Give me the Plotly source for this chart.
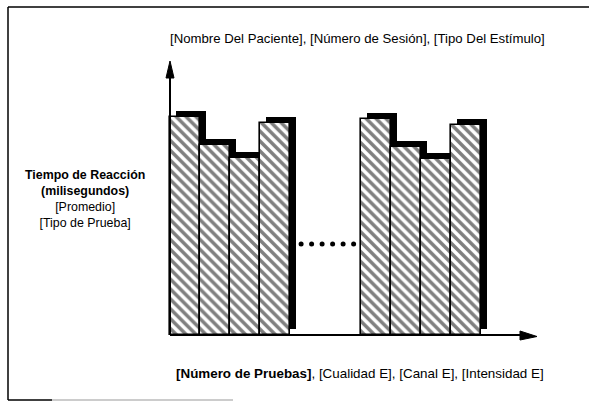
import plotly.graph_objects as go

# Mean reaction time per trial (schematic units), first and last blocks of trials
trial_pos = [0.5, 1.5, 2.5, 3.5, 6.85, 7.85, 8.85, 9.85]
reaction_time = [218, 190, 177, 212, 216, 188, 176, 210]
# "......" between the two blocks of trials
ellipsis_x = [4.37, 4.72, 5.07, 5.42, 5.77, 6.12]
ellipsis_y = [91, 91, 91, 91, 91, 91]

title_text = "[Nombre Del Paciente], [Número de Sesión], [Tipo Del Estímulo]"
y_label = ("<b>Tiempo de Reacción</b><br><b>(milisegundos)</b><br>"
           "[Promedio]<br>[Tipo de Prueba]")
x_label = "<b>[Número de Pruebas]</b>, [Cualidad E], [Canal E], [Intensidad E]"

W, H = 589, 402
OX, OY = 170, 335          # axis origin in page pixels
BAR_PX = 30.0              # one trial = 30 px wide, one time unit = 1 px tall
PAD = 10                   # room around the origin so arrowheads are not clipped
L, R, T, B = OX - PAD, 49, 61 - PAD, H - OY - PAD
PW, PH = W - L - R, H - T - B
X_MIN, X_MAX = -PAD / BAR_PX, (W - R - OX) / BAR_PX
Y_MIN, Y_MAX = -PAD, OY - T
Y_TOP = OY - 61            # height of the vertical axis arrow tip
SHADOW = 6                 # drop-shadow offset in px

def px(xp):
    return (xp - L) / PW

def py(yp):
    return (H - B - yp) / PH

font = "Liberation Sans, Arial, sans-serif"

fig = go.Figure()

# drop shadow behind each bar (offset up and to the right)
fig.add_trace(go.Bar(
    x=[v + SHADOW / BAR_PX for v in trial_pos],
    y=reaction_time,
    base=SHADOW,
    width=1.0,
    marker=dict(color="black", line=dict(width=0)),
    hoverinfo="skip",
    showlegend=False,
))

# hatched bars
fig.add_trace(go.Bar(
    x=trial_pos,
    y=reaction_time,
    width=1.0,
    marker=dict(
        color="white",
        line=dict(color="black", width=1.6),
        pattern=dict(shape="\\", fgcolor="black", bgcolor="white",
                     size=7, solidity=0.5, fillmode="overlay"),
    ),
    showlegend=False,
))

fig.add_trace(go.Scatter(
    x=ellipsis_x, y=ellipsis_y, mode="markers",
    marker=dict(color="black", size=5),
    showlegend=False, hoverinfo="skip",
))

shapes = []
# vertical axis with arrowhead
shapes.append(dict(type="line", xref="x", yref="y", x0=0, y0=0, x1=0, y1=Y_TOP - 10,
                   line=dict(color="black", width=2)))
shapes.append(dict(type="path", xref="x", yref="y",
                   path=f"M {-4/BAR_PX} {Y_TOP-17} L {4/BAR_PX} {Y_TOP-17} L 0 {Y_TOP} Z",
                   fillcolor="black", line=dict(color="black", width=1)))
# horizontal axis with arrowhead
x_tip = (537 - OX) / BAR_PX
shapes.append(dict(type="line", xref="x", yref="y", x0=0, y0=0, x1=x_tip - 0.3, y1=0,
                   line=dict(color="black", width=2)))
shapes.append(dict(type="path", xref="x", yref="y",
                   path=f"M {x_tip-17/BAR_PX} 4 L {x_tip-17/BAR_PX} -5 L {x_tip} -1.5 Z",
                   fillcolor="black", line=dict(color="black", width=1)))

# page frame
shapes.append(dict(type="line", xref="paper", yref="paper",
                   x0=px(8), y0=py(7), x1=px(W), y1=py(7),
                   line=dict(color="black", width=1.5)))
shapes.append(dict(type="line", xref="paper", yref="paper",
                   x0=px(8), y0=py(7), x1=px(8), y1=py(400),
                   line=dict(color="black", width=1.5)))
shapes.append(dict(type="line", xref="paper", yref="paper",
                   x0=px(8), y0=py(400), x1=px(52), y1=py(400),
                   line=dict(color="black", width=1.5)))
shapes.append(dict(type="line", xref="paper", yref="paper",
                   x0=px(52), y0=py(400), x1=px(233), y1=py(400),
                   line=dict(color="#9a9a9a", width=1.2)))

annotations = [
    dict(text=title_text, xref="paper", yref="paper", x=px(357), y=py(38),
         showarrow=False, xanchor="center", yanchor="middle",
         font=dict(family=font, size=13.2, color="black")),
    dict(text=y_label, xref="paper", yref="paper", x=px(85), y=py(199),
         showarrow=False, xanchor="center", yanchor="middle", align="center",
         font=dict(family=font, size=12.4, color="black")),
    dict(text=x_label, xref="paper", yref="paper", x=px(360), y=py(373),
         showarrow=False, xanchor="center", yanchor="middle",
         font=dict(family=font, size=13.4, color="black")),
]

fig.update_layout(
    width=W, height=H,
    margin=dict(l=L, r=R, t=T, b=B, pad=0),
    paper_bgcolor="white", plot_bgcolor="white",
    barmode="overlay", bargap=0,
    xaxis=dict(range=[X_MIN, X_MAX], visible=False, fixedrange=True),
    yaxis=dict(range=[Y_MIN, Y_MAX], visible=False, fixedrange=True),
    shapes=shapes, annotations=annotations,
    showlegend=False,
)

fig.write_html("out.html")
